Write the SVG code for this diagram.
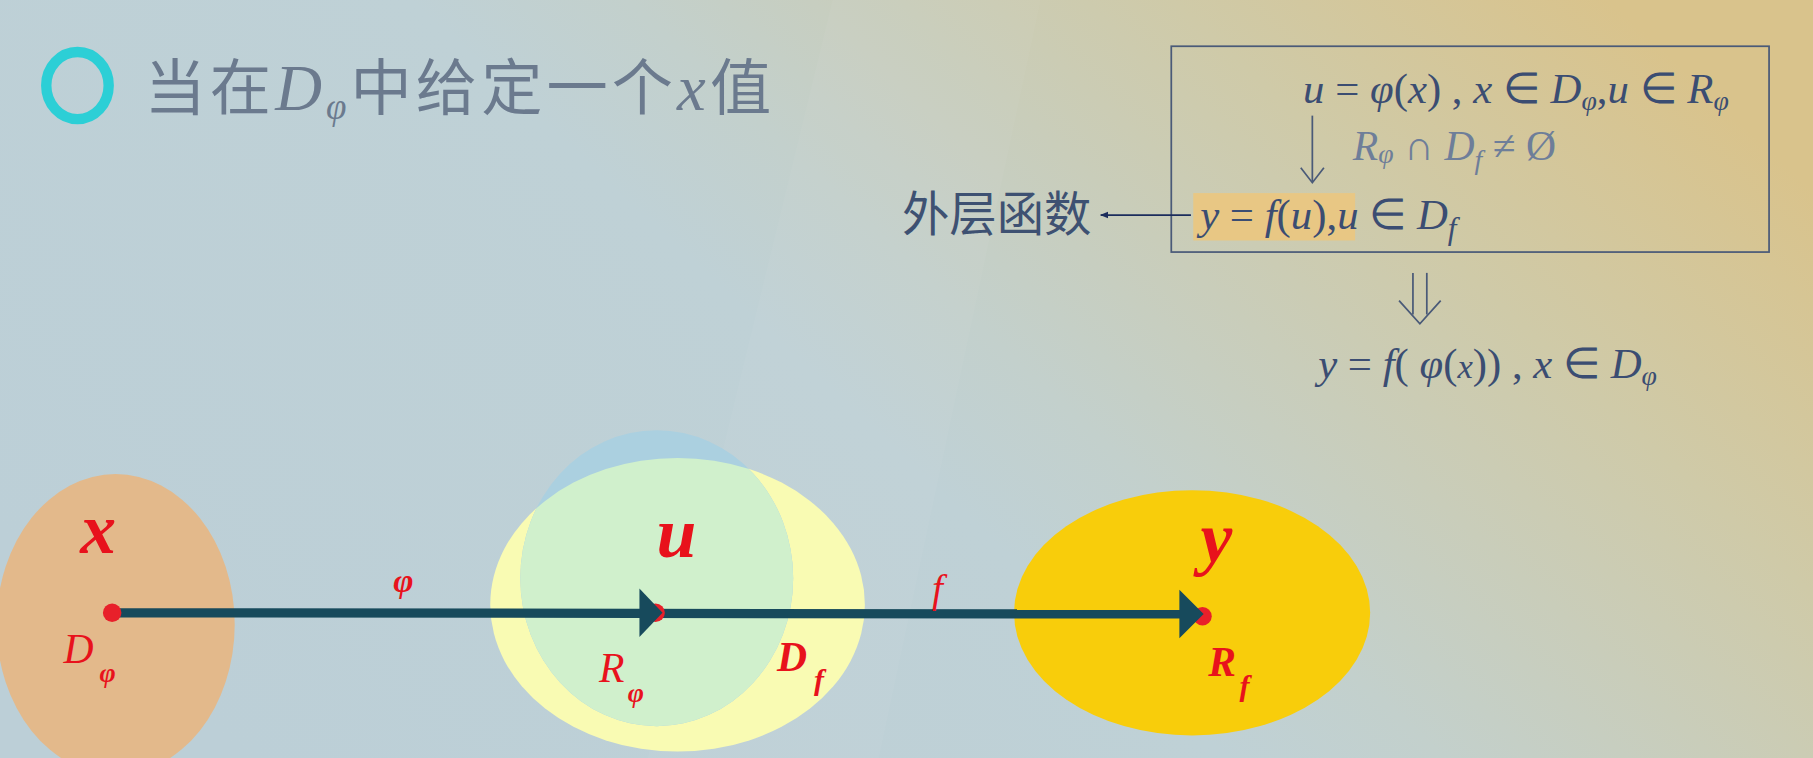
<svg xmlns="http://www.w3.org/2000/svg" width="1813" height="758" viewBox="0 0 1813 758">
<defs>
<linearGradient id="bg" x1="0" y1="0.7" x2="1" y2="0.25">
<stop offset="0" stop-color="#bccfd7"/>
<stop offset="0.45" stop-color="#bfd1d6"/>
<stop offset="0.55" stop-color="#c3d0cc"/>
<stop offset="0.8" stop-color="#cfcaa8"/>
<stop offset="1" stop-color="#d9c38c"/>
</linearGradient>
<clipPath id="yclip"><ellipse cx="586" cy="523" rx="162" ry="127"/></clipPath>
<marker id="sm" viewBox="0 0 10 10" refX="9" refY="5" markerWidth="7" markerHeight="7" orient="auto" markerUnits="userSpaceOnUse"><path d="M0,1 L10,5 L0,9 Z" fill="#1b2c5c"/></marker>
<style>
.t{font-family:"Liberation Serif","Times New Roman",serif;}
.cjk{font-family:"Noto Sans CJK SC","Noto Sans",sans-serif;}
.it{font-style:italic;}
.b{font-weight:bold;}
.red{fill:#e8121c;}
.m{fill:#3b4d72;font-size:37px;}
.dot{fill:#e8202a;}
.shaft{stroke:#174a5c;stroke-width:8;fill:none;}
.head{fill:#174a5c;}
</style>
</defs>
<rect width="1813" height="758" fill="url(#bg)"/>
<g transform="scale(1.15625)">
<polygon points="720,0 900,0 760,656 560,656" fill="#ffffff" opacity="0.035"/>
<g id="title">
<ellipse cx="67" cy="74" rx="27" ry="29" fill="none" stroke="#2ccfd6" stroke-width="9"/>
<text x="125" y="95" font-size="53" fill="#6b7a8e" letter-spacing="3.5"><tspan class="cjk">当在</tspan><tspan class="t it" font-size="56">D</tspan><tspan class="t it" font-size="32" dy="8">φ</tspan><tspan class="cjk" dy="-8">中给定一个</tspan><tspan class="t it" font-size="56">x</tspan><tspan class="cjk">值</tspan></text>
</g>
<g id="box">
<rect x="1013" y="40" width="517" height="178" fill="none" stroke="#4a5a78" stroke-width="1.5"/>
<rect x="1032" y="167" width="140" height="41" fill="#e8c784"/>
<text class="t m" x="1127" y="89"><tspan class="it">u</tspan> = <tspan class="it">φ</tspan>(<tspan class="it">x</tspan>) , <tspan class="it">x</tspan> ∈ <tspan class="it">D</tspan><tspan class="it" font-size="24" dy="6">φ</tspan><tspan dy="-6">,</tspan><tspan class="it">u</tspan> ∈ <tspan class="it">R</tspan><tspan class="it" font-size="24" dy="6">φ</tspan></text>
<line x1="1135" y1="100" x2="1135" y2="157" stroke="#4a5a78" stroke-width="1.5"/>
<polyline points="1125,145 1135,158 1145,145" fill="none" stroke="#4a5a78" stroke-width="1.5"/>
<text class="t" x="1170" y="138" font-size="36" fill="#6e7e99"><tspan class="it">R</tspan><tspan class="it" font-size="24" dy="3">φ</tspan><tspan dy="-3"> ∩ </tspan><tspan class="it">D</tspan><tspan class="it" font-size="24" dy="8">f</tspan><tspan dy="-8"> ≠ Ø</tspan></text>
<text class="t m" x="1038" y="198" font-size="42"><tspan class="it">y</tspan> = <tspan class="it">f</tspan>(<tspan class="it">u</tspan>),<tspan class="it">u</tspan> ∈ <tspan class="it">D</tspan><tspan class="it" font-size="27" dy="9">f</tspan></text>
</g>
<g id="outer-label">
<text class="cjk" x="780" y="200" font-size="41" fill="#3e5172">外层函数</text>
</g>
<g id="result">
<line x1="1222" y1="236" x2="1222" y2="272" stroke="#4a5a78" stroke-width="1.5"/>
<line x1="1234" y1="236" x2="1234" y2="272" stroke="#4a5a78" stroke-width="1.5"/>
<polyline points="1210,260 1228,280 1246,260" fill="none" stroke="#4a5a78" stroke-width="1.5"/>
<text class="t m" x="1140" y="327"><tspan class="it">y</tspan> = <tspan class="it">f</tspan>( <tspan class="it">φ</tspan>(<tspan class="it" font-size="30">x</tspan>)) , <tspan class="it">x</tspan> ∈ <tspan class="it">D</tspan><tspan class="it" font-size="24" dy="6">φ</tspan></text>
</g>
<g id="set-x">
<ellipse cx="100" cy="540" rx="103" ry="130" fill="#e3b98b"/>
</g>
<g id="set-u">
<ellipse cx="586" cy="523" rx="162" ry="127" fill="#f9fbb3"/>
<ellipse cx="568" cy="500" rx="118" ry="128" fill="#abd0e0"/>
<ellipse cx="568" cy="500" rx="118" ry="128" fill="#d0f0cc" clip-path="url(#yclip)"/>
</g>
<g id="set-y">
<ellipse cx="1031" cy="530" rx="154" ry="106" fill="#f8cd0b"/>
</g>
<g id="connectors">
<line class="shaft" x1="97" y1="530" x2="1025" y2="531"/>
<line x1="1030" y1="186" x2="952" y2="186" stroke="#1b2c5c" stroke-width="1.5" marker-end="url(#sm)"/>
</g>
<g id="points">
<circle class="dot" cx="97" cy="530" r="8"/>
<circle class="dot" cx="567" cy="530" r="8"/>
<circle class="dot" cx="1040" cy="533" r="8"/>
<polygon class="head" points="553,509 573,530 553,551"/>
<polygon class="head" points="1020,510 1041,531 1020,552"/>
</g>
<g id="labels" class="t red">
<text class="it b" x="85" y="478" font-size="62" text-anchor="middle">x</text>
<text class="it" x="55" y="573" font-size="36">D</text>
<text class="it b" x="86" y="590" font-size="24">φ</text>
<text class="it b" x="340" y="512" font-size="30">φ</text>
<text class="it b" x="585" y="482" font-size="62" text-anchor="middle">u</text>
<text class="it" x="518" y="590" font-size="36">R</text>
<text class="it b" x="543" y="607" font-size="24">φ</text>
<text class="it b" x="672" y="580" font-size="36">D</text>
<text class="it b" x="704" y="597" font-size="26">f</text>
<text class="it" x="806" y="521" font-size="34">f</text>
<text class="it b" x="1052" y="486" font-size="62" text-anchor="middle">y</text>
<text class="it b" x="1045" y="585" font-size="36">R</text>
<text class="it b" x="1072" y="602" font-size="26">f</text>
</g>
</g>
</svg>
